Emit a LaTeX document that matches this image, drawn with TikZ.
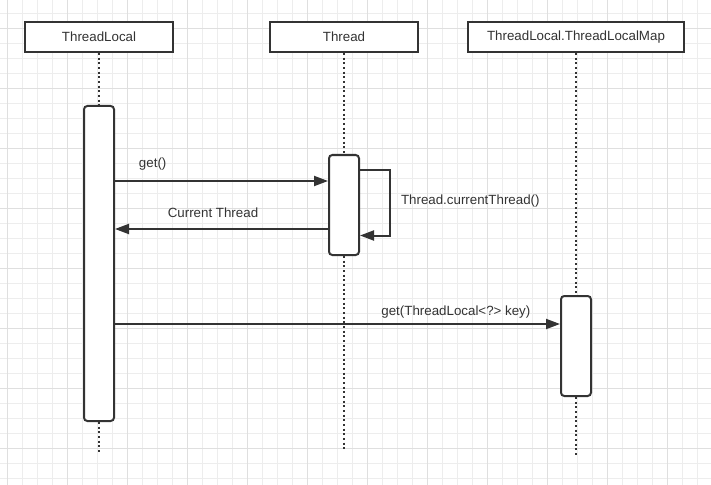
\documentclass[tikz,border=0pt]{standalone}
\usepackage{fontspec}
\setmainfont{Liberation Sans}
\usetikzlibrary{arrows.meta,positioning}

\definecolor{ink}{HTML}{333333}
\definecolor{gridminor}{HTML}{EDEDED}
\definecolor{gridmajor}{HTML}{DFDFDF}

\begin{document}
\begin{tikzpicture}[x=0.75pt,y=-0.75pt,>={Triangle[length=10.5pt,width=7.5pt]},
    head/.style={draw=ink,line width=1.5pt,fill=white,minimum height=22.5pt,
                 inner sep=0pt,text=ink,font=\fontsize{10}{12}\selectfont},
    act/.style={draw=ink,line width=1.5pt,fill=white,rounded corners=2.5pt,
                minimum width=22.5pt,inner sep=0pt},
    life/.style={ink,line width=1.5pt,dotted},
    msg/.style={ink,line width=1.5pt,->},
    lbl/.style={inner sep=0pt,text=ink,text depth=3pt,font=\fontsize{10}{12}\selectfont}]

                \useasboundingbox (0,0) rectangle (711,485);

                % grid
                \foreach \gx in {0,...,46}
                    \draw[gridminor,line width=0.75pt] ({7.3+15*\gx},0) -- ({7.3+15*\gx},485);
                \foreach \gy in {0,...,31}
                    \draw[gridminor,line width=0.75pt] (0,{13.3+15*\gy}) -- (711,{13.3+15*\gy});
                \foreach \gx in {0,4,...,44}
                    \draw[gridmajor,line width=0.75pt] ({7.3+15*\gx},0) -- ({7.3+15*\gx},485);
                \foreach \gy in {1,5,...,29}
                    \draw[gridmajor,line width=0.75pt] (0,{13.3+15*\gy}) -- (711,{13.3+15*\gy});

                \node[head,minimum width=111pt] (tl) at (99,37) {ThreadLocal};

                \node[head,minimum width=111pt] (th) at (344,37) {Thread};

                \node[head,minimum width=162pt] (map) at (576,37) {ThreadLocal.ThreadLocalMap};

                

                \node[act,minimum height=236.25pt] (tlAct) at (99,263.5) {};

                \node[act,minimum height=75pt] (thAct) at (344,205) {};

                \node[act,minimum height=75pt] (mapAct) at (576,346) {};

                \coordinate (tlEnd) at (99,452);

                \coordinate (thEnd) at (344,452);

                \coordinate (mapEnd) at (576,457);

                

                \draw[life] (tl) -- (tlAct) (tlAct) -- (tlEnd);

                \draw[life] (th) -- (thAct) (thAct) -- (thEnd);

                \draw[life] (map) -- (mapAct) (mapAct) -- (mapEnd);

                

                \draw[msg] (tlAct.east |- 0,181) -- node[lbl,pos=0.177,above=6.75pt] {get()} (thAct.west |- 0,181);

                \draw[msg] (thAct.west |- 0,229) -- node[lbl,pos=0.54,above=5pt] {Current Thread} (tlAct.east |- 0,229);

                \draw[msg] (thAct.east |- 0,170) -- ++(30,0) -- node[lbl,right=7.5pt,yshift=0.5pt] {Thread.currentThread()} ++(0,65.5) -- (thAct.east |- 0,235.5);

                \draw[msg] (tlAct.east |- 0,324) -- node[lbl,pos=0.766,above=3pt] {get(ThreadLocal<?> key)} (mapAct.west |- 0,324);

            \end{tikzpicture}
\end{document}
